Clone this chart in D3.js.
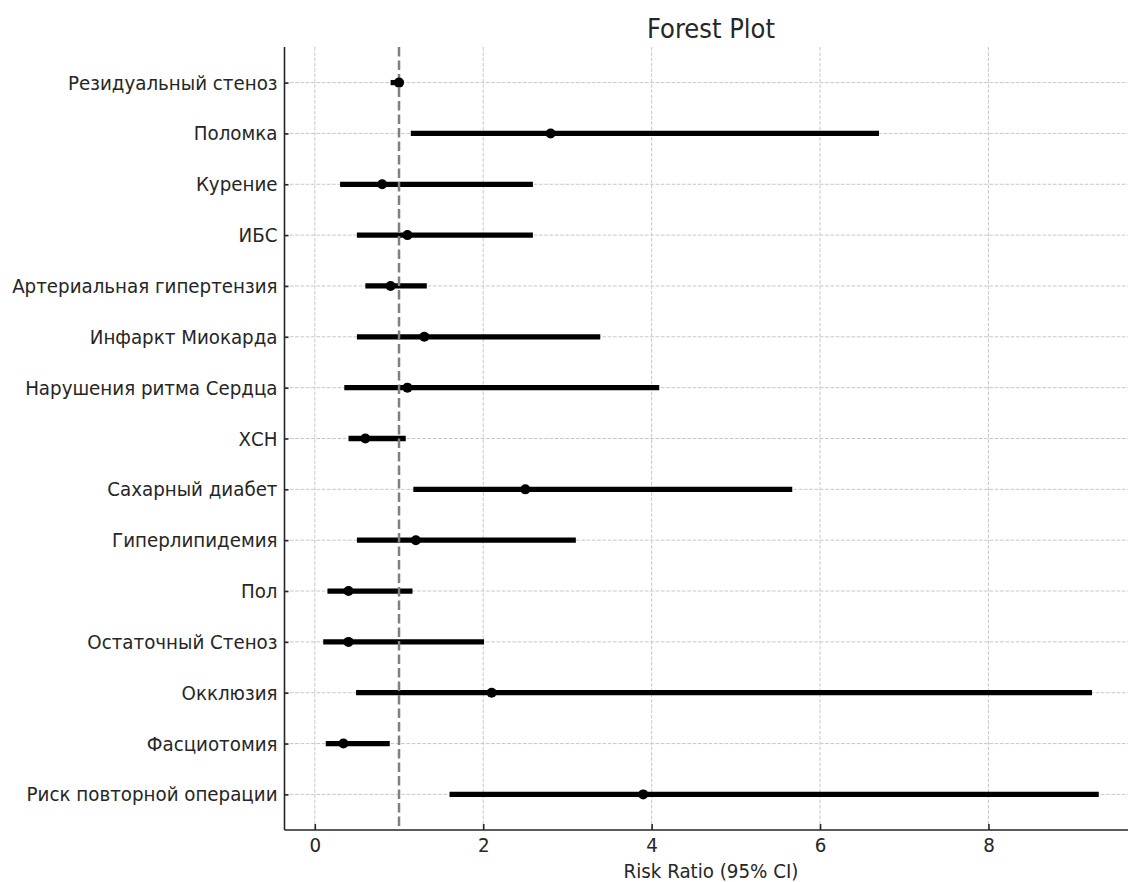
<!DOCTYPE html>
<html><head><meta charset="utf-8">
<script src="https://cdn.jsdelivr.net/npm/d3@7"></script>
<style>html,body{margin:0;padding:0;background:#fff;}svg{display:block;} text{font-stretch:condensed;}</style>
</head><body>
<svg id="chart" width="1128" height="882"></svg>
<script>
const categories = ["Резидуальный стеноз","Поломка","Курение","ИБС","Артериальная гипертензия","Инфаркт Миокарда","Нарушения ритма Сердца","ХСН","Сахарный диабет","Гиперлипидемия","Пол","Остаточный Стеноз","Окклюзия","Фасциотомия","Риск повторной операции"];
const riskRatio = [1.0, 2.8, 0.8, 1.1, 0.9, 1.3, 1.1, 0.6, 2.5, 1.2, 0.4, 0.4, 2.1, 0.34, 3.9];
const lowerCI   = [0.9, 1.14, 0.3, 0.5, 0.6, 0.5, 0.35, 0.4, 1.17, 0.5, 0.15, 0.1, 0.49, 0.13, 1.6];
const upperCI   = [1.05, 6.7, 2.59, 2.59, 1.33, 3.39, 4.09, 1.08, 5.67, 3.1, 1.16, 2.01, 9.23, 0.89, 9.31];
const xTicks = [0, 2, 4, 6, 8];
const refValue = 1;

(function () {
const svg = d3.select("#chart");
const font = "'DejaVu Sans Condensed', 'DejaVu Sans', sans-serif";
const mLeft = 284.5, mRight = 1137.5, mTop = 47, mBottom = 830;
const x = d3.scaleLinear().domain([-0.36, 9.77]).range([mLeft, mRight]);
const y = d3.scaleLinear().domain([-0.7, categories.length - 1 + 0.7]).range([mTop, mBottom]);

const rows = categories.map((c, i) => ({c, i, rr: riskRatio[i], lo: lowerCI[i], hi: upperCI[i]}));

// grid
const grid = svg.append("g");
grid.selectAll("line.gx").data(xTicks).join("line")
  .attr("x1", d => x(d)).attr("x2", d => x(d)).attr("y1", mTop).attr("y2", mBottom)
  .attr("stroke", "#c8c8c8").attr("stroke-width", 1).attr("stroke-dasharray", "3.7,1.6");
grid.selectAll("line.gy").data(rows).join("line")
  .attr("x1", mLeft).attr("x2", mRight).attr("y1", d => y(d.i)).attr("y2", d => y(d.i))
  .attr("stroke", "#c8c8c8").attr("stroke-width", 1).attr("stroke-dasharray", "3.7,1.6");

// CI bars
svg.append("g").selectAll("line").data(rows).join("line")
  .attr("x1", d => x(d.lo)).attr("x2", d => x(d.hi))
  .attr("y1", d => y(d.i)).attr("y2", d => y(d.i))
  .attr("stroke", "#000").attr("stroke-width", 5.3);

// reference line
svg.append("line").attr("x1", x(refValue)).attr("x2", x(refValue)).attr("y1", mTop).attr("y2", mBottom)
  .attr("stroke", "#808080").attr("stroke-width", 2.5).attr("stroke-dasharray", "9.5,4");

// points
svg.append("g").selectAll("circle").data(rows).join("circle")
  .attr("cx", d => x(d.rr)).attr("cy", d => y(d.i)).attr("r", 5).attr("fill", "#000");

// axes
const xAxis = d3.axisBottom(x).tickValues(xTicks).tickSize(-6).tickPadding(8).tickFormat(d3.format("d"));
const gx = svg.append("g").attr("transform", `translate(0,${mBottom})`).call(xAxis);
gx.select(".domain").attr("stroke", "#262626").attr("stroke-width", 1.6).attr("d", `M${mLeft},0H${mRight}`);
gx.selectAll(".tick line").attr("stroke", "#262626").attr("stroke-width", 1.6);
gx.selectAll(".tick text").attr("font-family", font).attr("font-size", 20.3).attr("fill", "#262626");

const yAxis = d3.axisLeft(y).tickValues(rows.map(d => d.i)).tickSize(-4).tickPadding(7).tickFormat(i => categories[i]);
const gy = svg.append("g").attr("transform", `translate(${mLeft},0)`).call(yAxis);
gy.select(".domain").attr("stroke", "#262626").attr("stroke-width", 1.6).attr("d", `M0,${mTop}V${mBottom}`);
gy.selectAll(".tick line").attr("stroke", "#262626").attr("stroke-width", 1.6);
gy.selectAll(".tick text").attr("font-family", font).attr("font-size", 20.3).attr("fill", "#262626");

// title and label
svg.append("text").attr("x", (mLeft + mRight) / 2).attr("y", 38).attr("text-anchor", "middle")
  .attr("font-family", font).attr("font-size", 27).attr("fill", "#262626").text("Forest Plot");
svg.append("text").attr("x", (mLeft + mRight) / 2).attr("y", 878).attr("text-anchor", "middle")
  .attr("font-family", font).attr("font-size", 20.3).attr("fill", "#262626").text("Risk Ratio (95% CI)");
})();
</script>
</body></html>
